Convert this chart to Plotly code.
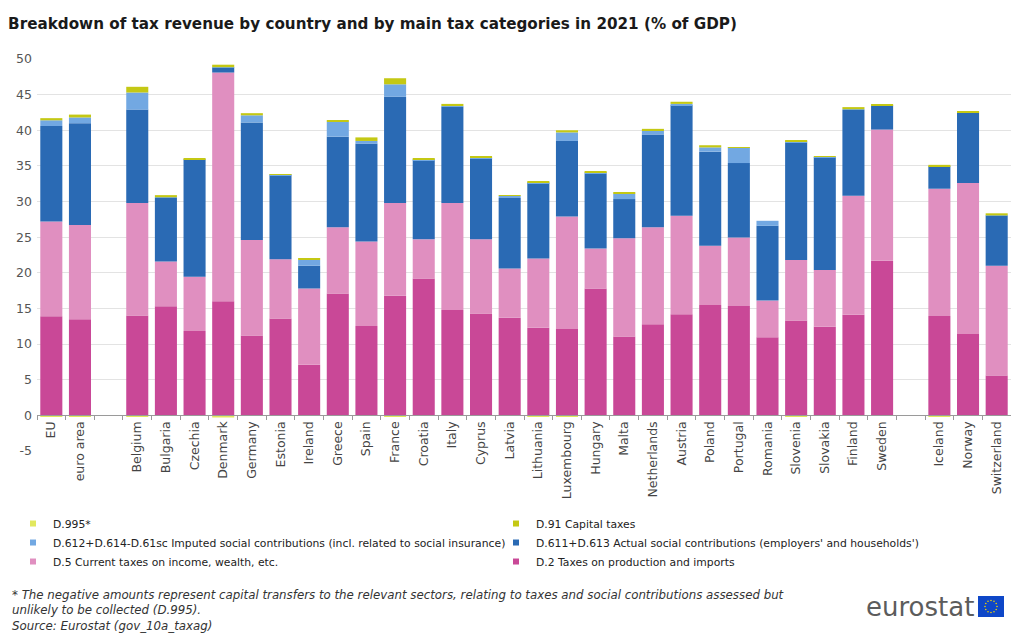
import math
import plotly.graph_objects as go

countries = ["EU", "euro area", "Belgium", "Bulgaria", "Czechia", "Denmark", "Germany",
             "Estonia", "Ireland", "Greece", "Spain", "France", "Croatia", "Italy", "Cyprus",
             "Latvia", "Lithuania", "Luxembourg", "Hungary", "Malta", "Netherlands", "Austria",
             "Poland", "Portugal", "Romania", "Slovenia", "Slovakia", "Finland", "Sweden",
             "Iceland", "Norway", "Switzerland"]

d2 = [13.9, 13.5, 14.0, 15.3, 11.85, 16.0, 11.2, 13.6, 7.1, 17.1, 12.55, 16.8, 19.2, 14.8,
      14.3, 13.7, 12.3, 12.1, 17.8, 11.05, 12.8, 14.2, 15.5, 15.35, 10.95, 13.3, 12.45, 14.1,
      21.7, 13.95, 11.4, 5.6]
d5 = [13.3, 13.2, 15.8, 6.3, 7.6, 32.1, 13.4, 8.3, 10.7, 9.3, 11.85, 13.0, 5.5, 15.0, 10.4,
      6.9, 9.7, 15.8, 5.6, 13.8, 13.6, 13.8, 8.3, 9.6, 5.15, 8.5, 7.95, 16.7, 18.4, 17.85,
      21.2, 15.4]
d611 = [13.4, 14.3, 13.1, 8.9, 16.4, 0.7, 16.5, 11.8, 3.2, 12.7, 13.7, 14.9, 11.1, 13.5,
        11.4, 9.9, 10.6, 10.6, 10.55, 5.5, 13.0, 15.5, 13.2, 10.45, 10.5, 16.5, 15.8, 12.05,
        3.35, 3.1, 9.9, 7.0]
d612 = [0.8, 0.8, 2.4, 0.1, 0.1, 0.05, 1.0, 0.1, 0.8, 2.1, 0.4, 1.75, 0.05, 0.1, 0.05, 0.3,
        0.05, 1.2, 0.1, 0.75, 0.5, 0.2, 0.6, 2.2, 0.7, 0.1, 0.05, 0.1, 0.05, 0.05, 0.05, 0.05]
d91 = [0.3, 0.4, 0.8, 0.3, 0.1, 0.35, 0.3, 0.05, 0.2, 0.2, 0.5, 0.85, 0.2, 0.3, 0.15, 0.1,
       0.15, 0.3, 0.2, 0.15, 0.3, 0.3, 0.3, 0.05, 0.0, 0.2, 0.05, 0.3, 0.05, 0.2, 0.1, 0.3]
d995 = [-0.1, -0.1, -0.1, 0, 0, -0.3, 0, 0, 0, 0, 0, -0.2, 0, 0, 0, 0, -0.1, -0.1, 0, 0,
        -0.05, 0, 0, 0, 0, -0.1, 0, 0, 0, -0.1, 0, -0.05]

y_ticks = [-5, 0, 5, 10, 15, 20, 25, 30, 35, 40, 45, 50]
y_tick_labels = ["-5", "0", "5", "10", "15", "20", "25", "30", "35", "40", "45", "50"]

series = [
    ("D.2 Taxes on production and imports", d2, "#c94897"),
    ("D.5 Current taxes on income, wealth, etc.", d5, "#e08fc0"),
    ("D.611+D.613 Actual social contributions (employers' and households')", d611, "#2a6ab4"),
    ("D.612+D.614-D.61sc Imputed social contributions (incl. related to social insurance)", d612, "#72a8e2"),
    ("D.91 Capital taxes", d91, "#c4c814"),
    ("D.995*", d995, "#e2e85e"),
]

FONT = "DejaVu Sans, Verdana, sans-serif"

# axis order with two blank gaps
cat_order = countries[:2] + [" "] + countries[2:29] + ["  "] + countries[29:]

fig = go.Figure()
for name, vals, col in series:
    fig.add_trace(go.Bar(x=countries, y=vals, name=name, marker=dict(color=col, line=dict(width=0)),
                         showlegend=False))
# legend entries with small square markers
for name, vals, col in series:
    fig.add_trace(go.Scatter(x=[None], y=[None], mode="markers", name=name,
                             marker=dict(symbol="square", size=6, color=col)))

fig.update_layout(
    width=1011, height=635,
    margin=dict(l=37, r=0, t=59, b=184),
    paper_bgcolor="white", plot_bgcolor="white",
    barmode="relative", bargap=0.23,
    font=dict(family=FONT, color="#333"),
    title=dict(text="<b>Breakdown of tax revenue by country and by main tax categories in 2021 (% of GDP)</b>",
               x=0.008, xanchor="left", y=0.962, yanchor="middle",
               font=dict(size=15.2, color="#1a1a1a", family=FONT)),
    xaxis=dict(type="category", categoryorder="array", categoryarray=cat_order,
               anchor="free", position=5 / 55,
               showline=True, linecolor="#9a9a9a", linewidth=1,
               ticks="outside", tickson="boundaries", ticklen=4, tickcolor="#9a9a9a",
               tickangle=-90, tickfont=dict(size=12.5, color="#444"), showgrid=False),
    yaxis=dict(range=[-5, 50], tickvals=y_ticks, ticktext=y_tick_labels,
               showgrid=True, gridcolor="#e3e3e3",
               zeroline=False, showline=False, ticklabelstandoff=4,
               tickfont=dict(size=12.5, color="#555")),
    legend=dict(orientation="h", traceorder="reversed", x=-24 / 974, xanchor="left",
                y=-0.148, yanchor="top", entrywidth=438, entrywidthmode="pixels",
                font=dict(size=10.8, color="#222"), itemwidth=30,
                bgcolor="rgba(0,0,0,0)"),
)

foot = ("<i>* The negative amounts represent capital transfers to the relevant sectors, relating to taxes and social contributions assessed but<br>"
        "unlikely to be collected (D.995).<br>Source: Eurostat (gov_10a_taxag)</i>")
fig.add_annotation(text=foot, xref="paper", yref="paper", x=-27 / 974, xanchor="left",
                   y=(451 - 586) / 392, yanchor="top", showarrow=False, align="left",
                   font=dict(size=11.8, color="#333"))

# eurostat logo
fig.add_annotation(text="eurostat", xref="paper", yref="paper", x=(976 - 37) / 974, xanchor="right",
                   y=(451 - 607) / 392, yanchor="middle", showarrow=False,
                   font=dict(size=26, color="#5c5c5c"))
bx0, bx1, by0, by1 = 978, 1004, 596, 617
def px(x):
    return (x - 37) / 974
def py(y):
    return (451 - y) / 392
fig.add_shape(type="rect", xref="paper", yref="paper", x0=px(bx0), x1=px(bx1), y0=py(by1), y1=py(by0),
              fillcolor="#0e47c8", line=dict(width=0))
cx, cy, r = (bx0 + bx1) / 2, (by0 + by1) / 2, 6
for k in range(12):
    a = 2 * math.pi * k / 12
    sx, sy = cx + r * math.cos(a), cy + r * math.sin(a)
    fig.add_shape(type="circle", xref="paper", yref="paper", x0=px(sx - 0.8), x1=px(sx + 0.8),
                  y0=py(sy + 0.8), y1=py(sy - 0.8), fillcolor="#f2d400", line=dict(width=0))

fig.write_html("out.html")
